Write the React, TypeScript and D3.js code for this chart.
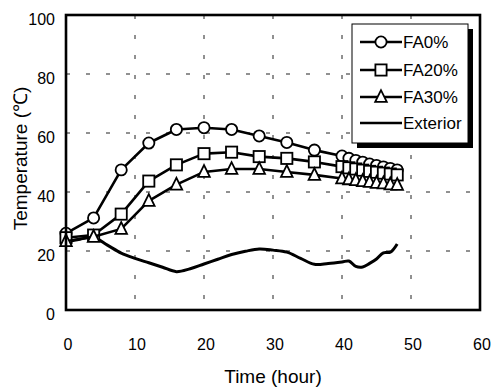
import React from "react";
import * as d3 from "d3";

const seriesHours = [0, 4, 8, 12, 16, 20, 24, 28, 32, 36, 40, 41, 42, 43, 44, 45, 46, 47, 48];
const fa0 = [26, 31.2, 47.5, 56.6, 61.2, 61.8, 61.2, 59, 56.8, 54.2, 52.2, 51.4, 50.7, 50.1, 49.5, 49, 48.5, 48, 47.5];
const fa20 = [24.5, 25.4, 32.5, 43.7, 49.2, 53, 53.5, 52, 51.4, 50.2, 48.6, 48.2, 47.8, 47.4, 47, 46.7, 46.4, 46.1, 45.8];
const fa30 = [23.3, 24.8, 27.5, 37, 42.5, 46.8, 47.8, 47.8, 46.8, 45.8, 44.6, 44.3, 44, 43.7, 43.4, 43.1, 42.9, 42.6, 42.4];

const exteriorHours = [0, 2, 4, 6, 8, 10, 12, 14, 16, 18, 20, 22, 24, 26, 28, 30, 32, 34, 36, 38, 40, 41, 42, 43, 44, 45, 46, 47, 48];
const exterior = [23, 24, 24.6, 22, 19.3, 17.5, 16, 14.5, 13, 14, 15.6, 17.2, 18.8, 19.9, 20.7, 20.3, 19.6, 17.5, 15.5, 15.8, 16.3, 16.6, 14.8, 14.6, 15.8, 17.3, 19.4, 19.6, 22.4];

const xTicks = [0, 10, 20, 30, 40, 50, 60];
const yTicks = [0, 20, 40, 60, 80, 100];
const legendLabels = ["FA0%", "FA20%", "FA30%", "Exterior"];

const L = 66, R = 480, T = 15, B = 310;
const x = d3.scaleLinear().domain([0, 60]).range([L, R]);
const y = d3.scaleLinear().domain([0, 100]).range([B, T]);
const FONT = "'Liberation Sans', Arial, sans-serif";

function Marker({ kind, cx, cy }: { kind: string; cx: number; cy: number }) {
  const s = 5.6;
  if (kind === "circle")
    return <circle cx={cx} cy={cy} r={s} fill="#fff" stroke="#000" strokeWidth={1.8} />;
  if (kind === "square")
    return <rect x={cx - s} y={cy - s} width={2 * s} height={2 * s} fill="#fff" stroke="#000" strokeWidth={1.8} />;
  const h = 11;
  const pts = `${cx},${cy - h * 0.62} ${cx - 5.8},${cy + h * 0.45} ${cx + 5.8},${cy + h * 0.45}`;
  return <polygon points={pts} fill="#fff" stroke="#000" strokeWidth={1.8} />;
}

export default function App() {
  const line = d3
    .line<[number, number]>()
    .x((d) => x(d[0]))
    .y((d) => y(d[1]));
  const extLine = d3
    .line<[number, number]>()
    .x((d) => x(d[0]))
    .y((d) => y(d[1]))
    .curve(d3.curveCatmullRom.alpha(0.5));

  const series = [
    { vals: fa0, kind: "circle" },
    { vals: fa20, kind: "square" },
    { vals: fa30, kind: "triangle" },
  ];
  const extData: [number, number][] = exteriorHours.map((h, i) => [h, exterior[i]]);

  const lgX = 352, lgY = 24, lgW = 116, lgH = 119;
  const lgRows = [42, 70, 97, 123];

  return (
    <svg
      width={497}
      height={388}
      style={{ position: "fixed", left: 0, top: 0, background: "#fff" }}
      fontFamily={FONT}
    >
      <rect x={0} y={0} width={497} height={388} fill="#fff" />
      {/* grid */}
      {xTicks.slice(1, -1).map((t) => (
        <line key={"gx" + t} x1={x(t)} x2={x(t)} y1={T} y2={B} stroke="#222" strokeWidth={1} strokeDasharray="4 16" />
      ))}
      {yTicks.slice(1, -1).map((t) => (
        <line key={"gy" + t} x1={L} x2={R} y1={y(t)} y2={y(t)} stroke="#222" strokeWidth={1} strokeDasharray="4 16" />
      ))}
      {/* exterior */}
      <path d={extLine(extData) || ""} fill="none" stroke="#000" strokeWidth={3} strokeLinejoin="round" />
      {/* series */}
      {series.map((s, si) => {
        const data: [number, number][] = seriesHours.map((h, i) => [h, s.vals[i]]);
        return (
          <g key={si}>
            <path d={line(data) || ""} fill="none" stroke="#000" strokeWidth={2.6} strokeLinejoin="round" />
            {data.map((d, i) => (
              <Marker key={i} kind={s.kind} cx={x(d[0])} cy={y(d[1])} />
            ))}
          </g>
        );
      })}
      {/* frame */}
      <rect x={L} y={T} width={R - L} height={B - T} fill="none" stroke="#000" strokeWidth={2.6} />
      {/* x ticks */}
      {xTicks.map((t) => (
        <text key={"xt" + t} x={x(t) + 2} y={350} fontSize={16} textAnchor="middle" fill="#000">
          {t}
        </text>
      ))}
      {yTicks.map((t) => (
        <text key={"yt" + t} x={55} y={y(t) + 10} fontSize={16} textAnchor="end" fill="#000">
          {t}
        </text>
      ))}
      <text x={(L + R) / 2} y={383} fontSize={19} textAnchor="middle" fill="#000">
        Time (hour)
      </text>
      <text
        transform={`translate(27, ${(T + B) / 2 - 4}) rotate(-90)`}
        fontSize={19}
        textAnchor="middle"
        fill="#000"
      >
        Temperature (℃)
      </text>
      {/* legend */}
      <rect x={lgX + 5} y={lgY + 5} width={lgW} height={lgH} fill="#000" />
      <rect x={lgX} y={lgY} width={lgW} height={lgH} fill="#fff" stroke="#000" strokeWidth={1} />
      {legendLabels.map((lab, i) => (
        <g key={lab}>
          <line x1={360} x2={402} y1={lgRows[i]} y2={lgRows[i]} stroke="#000" strokeWidth={2.6} />
          {i < 3 && <Marker kind={series[i].kind} cx={381} cy={lgRows[i]} />}
          <text x={403} y={lgRows[i] + 6} fontSize={17} fill="#000">
            {lab}
          </text>
        </g>
      ))}
    </svg>
  );
}
